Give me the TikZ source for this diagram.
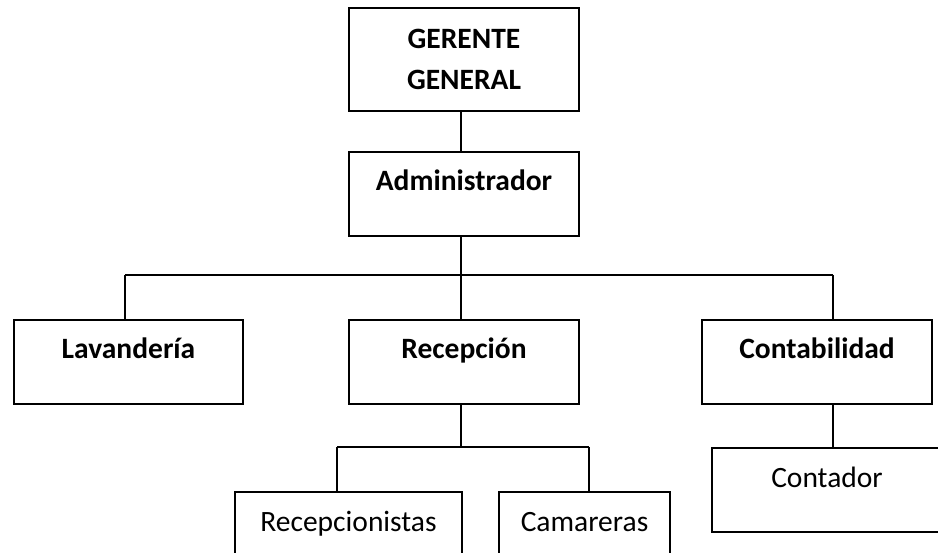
\documentclass[tikz,border=0pt]{standalone}
\usepackage{fontspec}
\setmainfont{Carlito}
\begin{document}
\begin{tikzpicture}[x=1pt,y=-1pt,
  box/.style={draw, line width=2pt, inner sep=0pt, minimum height=84, text height=39, text depth=45, anchor=north west, font=\fontsize{29.5}{35}\selectfont},
  boxb/.style={box, font=\fontsize{29.5}{35}\selectfont\bfseries},
  conn/.style={line width=1.3pt}]
\useasboundingbox (0,0) rectangle (938,553);
\clip (0,0) rectangle (938,553);
% boxes
\node[draw, line width=2pt, inner sep=0pt, anchor=north west, minimum width=230, minimum height=103, align=center, font=\fontsize{29.5}{41}\selectfont\bfseries] (G) at (348,7) {GERENTE\\GENERAL};
\node[boxb, minimum width=230, minimum height=83] (A) at (348,151) {Administrador};
\node[boxb, minimum width=229] (L) at (13,319) {Lavandería};
\node[boxb, minimum width=230] (R) at (348,319) {Recepción};
\node[boxb, minimum width=230] (C) at (701,319) {Contabilidad};
\node[box, minimum width=227] (RC) at (234,491) {Recepcionistas};
\node[box, minimum width=171] (CA) at (498,491) {Camareras};
\node[box, minimum width=230] (CO) at (711,447) {Contador};
% bus coordinates
\coordinate (b1) at (461,275);
\coordinate (b1L) at (125,275);
\coordinate (b1R) at (833,275);
\coordinate (b2) at (461,447);
\coordinate (b2L) at (337,447);
\coordinate (b2R) at (589,447);
% connectors
\draw[conn] (G.south -| b1) -- (A.north -| b1);
\draw[conn] (A.south -| b1) -- (b1);
\draw[conn] (b1L) -- (b1R);
\draw[conn] (b1L) -- (L.north -| b1L);
\draw[conn] (b1) -- (R.north -| b1);
\draw[conn] (b1R) -- (C.north -| b1R);
\draw[conn] (R.south -| b2) -- (b2);
\draw[conn] (b2L) -- (b2R);
\draw[conn] (b2L) -- (RC.north -| b2L);
\draw[conn] (b2R) -- (CA.north -| b2R);
\draw[conn] (C.south -| b1R) -- (CO.north -| b1R);
\end{tikzpicture}
\end{document}
